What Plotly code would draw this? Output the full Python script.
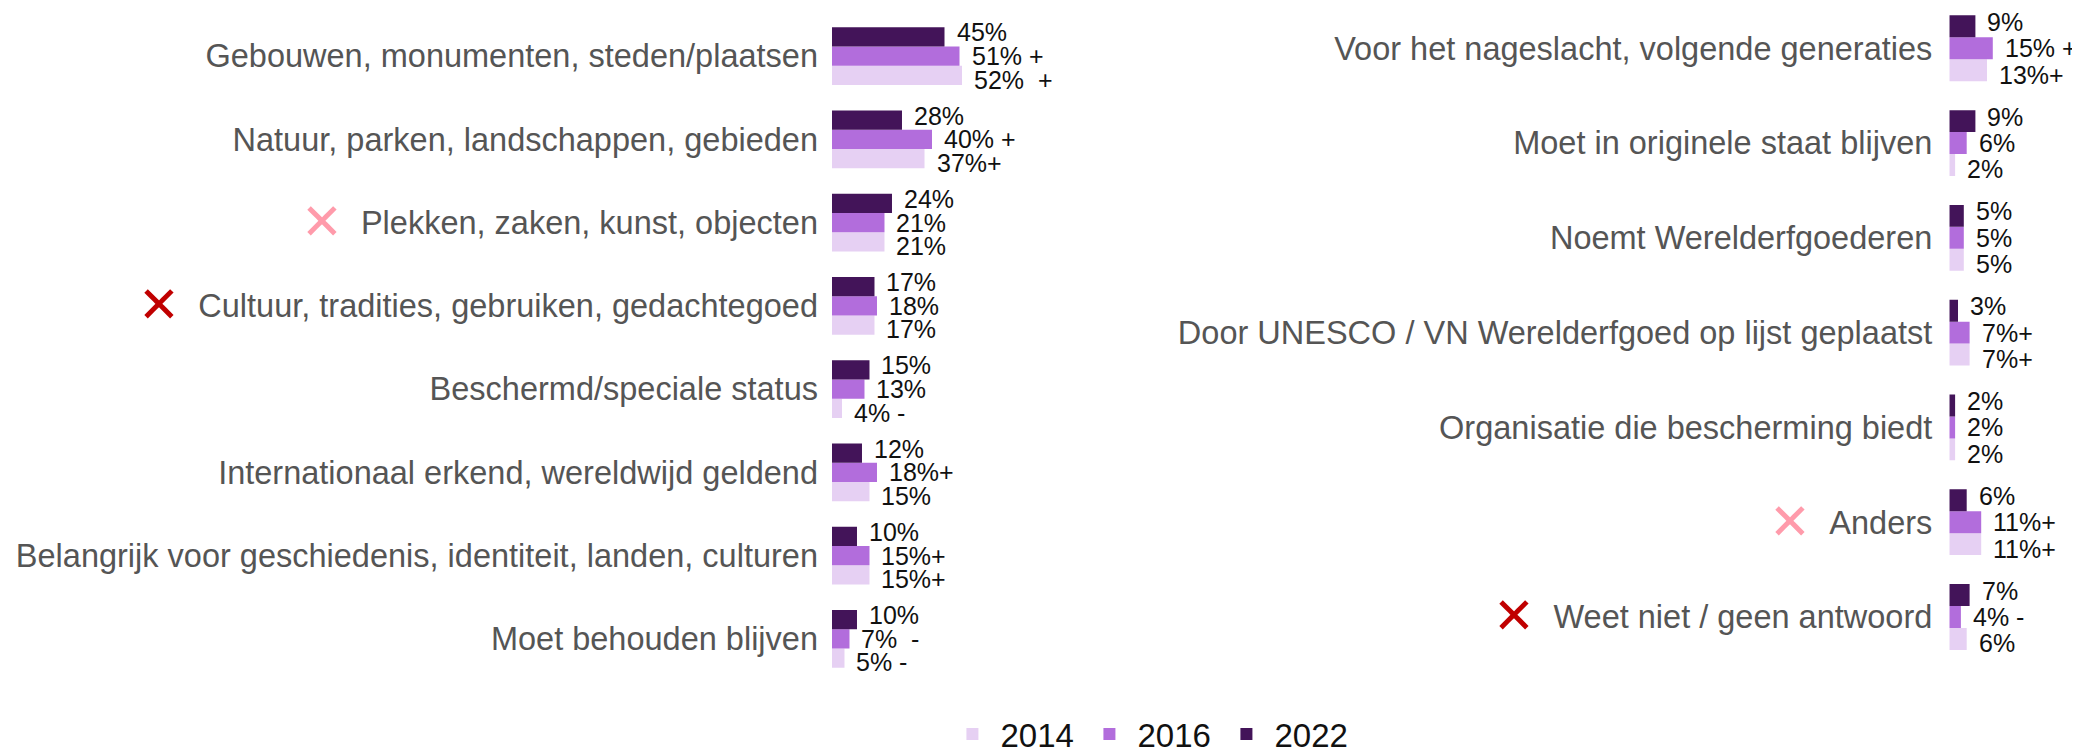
import plotly.graph_objects as go

# linker paneel
cats_l = ["Gebouwen, monumenten, steden/plaatsen",
          "Natuur, parken, landschappen, gebieden",
          "Plekken, zaken, kunst, objecten",
          "Cultuur, tradities, gebruiken, gedachtegoed",
          "Beschermd/speciale status",
          "Internationaal erkend, wereldwijd geldend",
          "Belangrijk voor geschiedenis, identiteit, landen, culturen",
          "Moet behouden blijven"]
l_2014 = [52, 37, 21, 17, 4, 15, 15, 5]
l_2016 = [51, 40, 21, 18, 13, 18, 15, 7]
l_2022 = [45, 28, 24, 17, 15, 12, 10, 10]
s_2014_l = ["  +", "+", "", "", " -", "", "+", " -"]
s_2016_l = [" +", " +", "", "", "", "+", "+", "  -"]
s_2022_l = ["", "", "", "", "", "", "", ""]

# rechter paneel
cats_r = ["Voor het nageslacht, volgende generaties",
          "Moet in originele staat blijven",
          "Noemt Werelderfgoederen",
          "Door UNESCO / VN Werelderfgoed op lijst geplaatst",
          "Organisatie die bescherming biedt",
          "Anders",
          "Weet niet / geen antwoord"]
r_2014 = [13, 2, 5, 7, 2, 11, 6]
r_2016 = [15, 6, 5, 7, 2, 11, 4]
r_2022 = [9, 9, 5, 3, 2, 6, 7]
s_2014_r = ["+", "", "", "+", "", "+", ""]
s_2016_r = [" +", "", "", "+", "", "+", " -"]
s_2022_r = ["", "", "", "", "", "", ""]

years = ["2014", "2016", "2022"]
kleuren = ["#e6d0f3", "#b26ddc", "#431459"]

pink_x = ["Plekken, zaken, kunst, objecten", "Anders"]
red_x = ["Cultuur, tradities, gebruiken, gedachtegoed", "Weet niet / geen antwoord"]

BARGAP = 0.305


def ticklabel(c):
    kruis = "<span style='color:%s;font-size:50px;baseline-shift:-5px'>✕</span>\u00a0\u00a0"
    if c in pink_x:
        return kruis % "#ff9bab" + c
    if c in red_x:
        return kruis % "#c00000" + c
    return c


fig = go.Figure()
left = [(l_2014, s_2014_l), (l_2016, s_2016_l), (l_2022, s_2022_l)]
right = [(r_2014, s_2014_r), (r_2016, s_2016_r), (r_2022, s_2022_r)]
annots = []
w = (1 - BARGAP) / 3
for i, yr in enumerate(years):
    # labels staan iets verder uit elkaar dan de balken
    for cats, data, xa, ya, show, spread in [(cats_l, left, "x", "y", True, 0.052),
                                             (cats_r, right, "x2", "y2", False, 0.047)]:
        vals, signs = data[i]
        fig.add_trace(go.Bar(
            y=cats, x=vals, orientation="h", name=yr, showlegend=show,
            marker_color=kleuren[i], marker_line_width=0,
            xaxis=xa, yaxis=ya, legendgroup=yr, hoverinfo="skip"))
        order = cats[::-1]
        for c, v, s in zip(cats, vals, signs):
            annots.append(dict(
                x=v, y=order.index(c) + (i - 1) * (w + spread), xref=xa, yref=ya,
                text="%d%%%s" % (v, s.replace(" ", "\u00a0")), showarrow=False,
                xanchor="left", yanchor="middle", xshift=10,
                font=dict(size=25, color="#111111")))

yax = dict(type="category", showgrid=False, zeroline=False, showline=False,
           ticks="", tickfont=dict(size=32.5, color="#555555"),
           automargin=False)

fig.update_layout(
    width=2080, height=754, autosize=False,
    margin=dict(l=0, r=0, t=0, b=0),
    paper_bgcolor="white", plot_bgcolor="white",
    font=dict(family="Liberation Sans, Arial, sans-serif"),
    barmode="group", bargap=BARGAP, bargroupgap=0,
    xaxis=dict(domain=[0.39615, 0.46827], range=[0, 60], visible=False),
    xaxis2=dict(domain=[0.93332, 0.96120], range=[0, 20], visible=False),
    yaxis=dict(domain=[0.09973, 0.99138], anchor="x", range=[-0.5, 7.5],
               categoryorder="array", categoryarray=cats_l[::-1],
               tickvals=cats_l, ticktext=[ticklabel(c) for c in cats_l],
               ticklabelstandoff=13, **yax),
    yaxis2=dict(domain=[0.12135, 1.0], anchor="x2", range=[-0.5, 6.425],
                categoryorder="array", categoryarray=cats_r[::-1],
                tickvals=cats_r, ticktext=[ticklabel(c) for c in cats_r],
                ticklabelstandoff=16, **yax),
    annotations=annots,
    legend=dict(orientation="h", x=0.549, xanchor="center", y=0.0278, yanchor="middle",
                font=dict(size=33, color="#111111"), traceorder="normal",
                itemwidth=46, entrywidth=76),
    showlegend=True,
)

fig.write_html("out.html")
